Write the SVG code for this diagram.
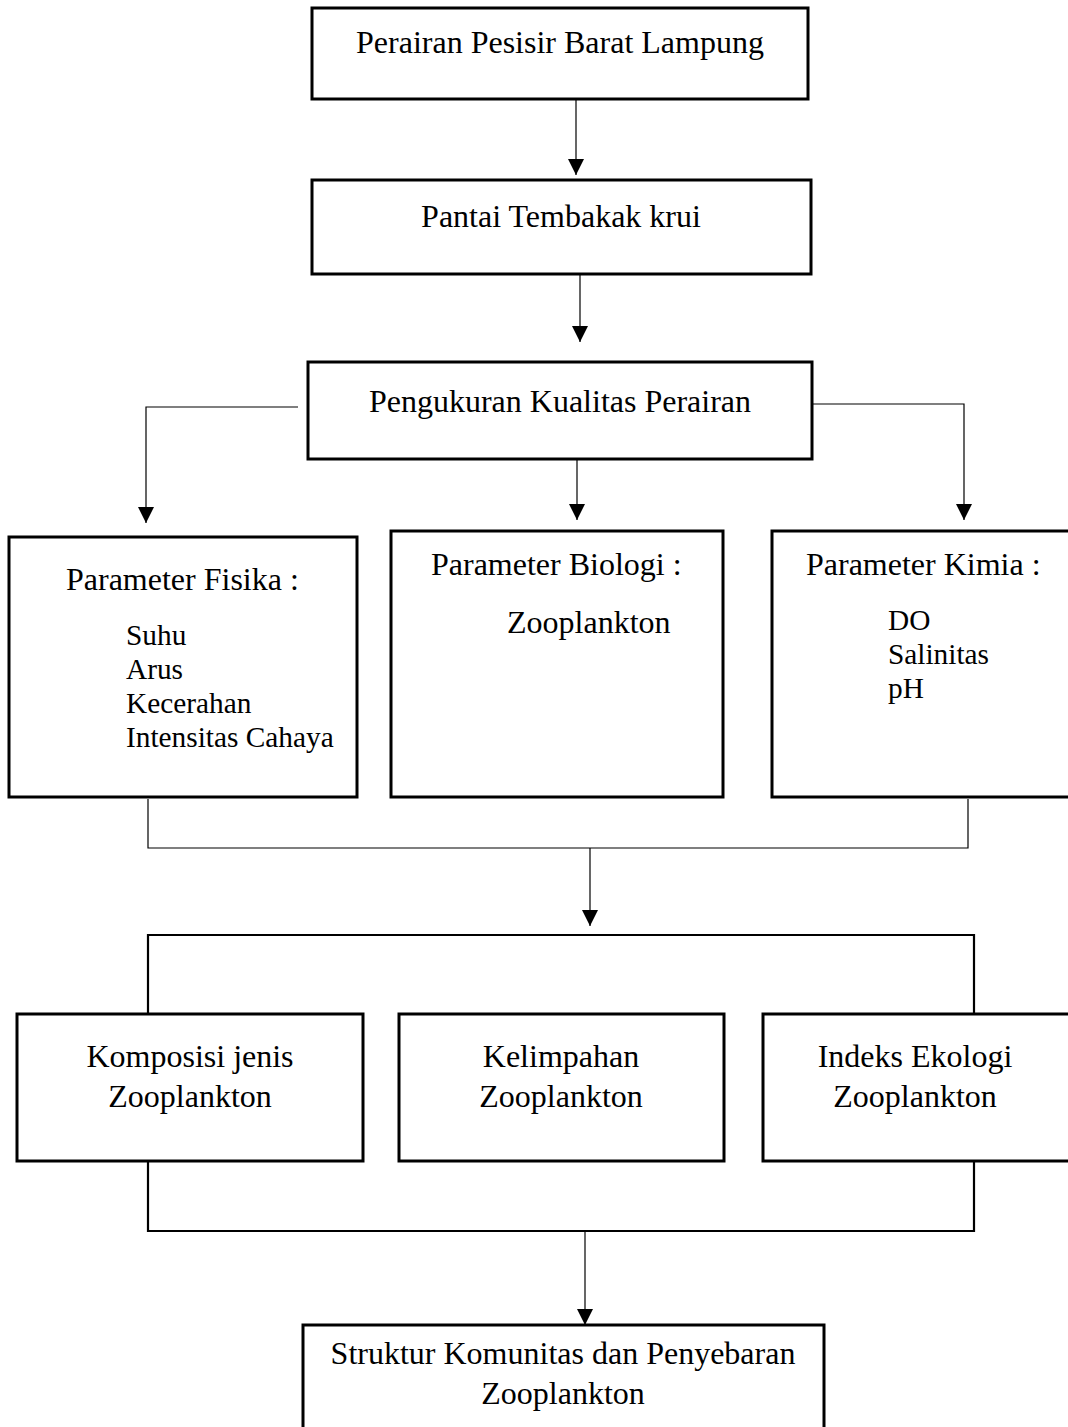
<svg xmlns="http://www.w3.org/2000/svg" width="1068" height="1427" viewBox="0 0 1068 1427">
<defs>
<style>
.box{fill:#fff;stroke:#000;stroke-width:3}
.t{font-family:"Liberation Serif","Times New Roman",serif;font-size:32px;fill:#000}
.s{font-size:29.33px}
.c{text-anchor:middle}
.ln{fill:none;stroke:#000;stroke-width:1.2}
.lt{fill:none;stroke:#000;stroke-width:2.2}
</style>
<marker id="arr" viewBox="0 0 16 16" refX="16" refY="8" markerWidth="16" markerHeight="16" markerUnits="userSpaceOnUse" orient="auto">
<path d="M0,0 L16,8 L0,16 z" fill="#000"/>
</marker>
</defs>
<rect width="1068" height="1427" fill="#fff"/>
<g id="connectors">
<line class="ln" x1="576" y1="100" x2="576" y2="175" marker-end="url(#arr)"/>
<line class="ln" x1="580" y1="275" x2="580" y2="342" marker-end="url(#arr)"/>
<polyline class="ln" points="298,407 146,407 146,523" marker-end="url(#arr)"/>
<polyline class="ln" points="812,404 964,404 964,520" marker-end="url(#arr)"/>
<line class="ln" x1="577" y1="460" x2="577" y2="520" marker-end="url(#arr)"/>
<polyline class="ln" points="148,799 148,848 968,848 968,799"/>
<line class="ln" x1="590" y1="848" x2="590" y2="926" marker-end="url(#arr)"/>
<polyline class="lt" points="148,1014 148,935 974,935 974,1014"/>
<polyline class="lt" points="148,1162 148,1231 974,1231 974,1162"/>
<line class="ln" x1="585" y1="1231" x2="585" y2="1325" marker-end="url(#arr)"/>
</g>
<g id="n1">
<rect class="box" x="312" y="8" width="496" height="91"/>
<text class="t c" x="560" y="53">Perairan Pesisir Barat Lampung</text>
</g>
<g id="n2">
<rect class="box" x="312" y="180" width="499" height="94"/>
<text class="t c" x="561" y="227">Pantai Tembakak krui</text>
</g>
<g id="n3">
<rect class="box" x="308" y="362" width="504" height="97"/>
<text class="t c" x="560" y="412">Pengukuran Kualitas Perairan</text>
</g>
<g id="fisika">
<rect class="box" x="9" y="537" width="348" height="260"/>
<text class="t" x="66" y="590">Parameter Fisika :</text>
<text class="t s" x="126" y="645">Suhu</text>
<text class="t s" x="126" y="679">Arus</text>
<text class="t s" x="126" y="713">Kecerahan</text>
<text class="t s" x="126" y="747">Intensitas Cahaya</text>
</g>
<g id="biologi">
<rect class="box" x="391" y="531" width="332" height="266"/>
<text class="t" x="431" y="575">Parameter Biologi :</text>
<text class="t" x="507" y="633">Zooplankton</text>
</g>
<g id="kimia">
<rect class="box" x="772" y="531" width="300" height="266"/>
<text class="t" x="806" y="575">Parameter Kimia :</text>
<text class="t s" x="888" y="630">DO</text>
<text class="t s" x="888" y="664">Salinitas</text>
<text class="t s" x="888" y="698">pH</text>
</g>
<g id="komposisi">
<rect class="box" x="17" y="1014" width="346" height="147"/>
<text class="t c" x="190" y="1067">Komposisi jenis</text>
<text class="t c" x="190" y="1107">Zooplankton</text>
</g>
<g id="kelimpahan">
<rect class="box" x="399" y="1014" width="325" height="147"/>
<text class="t c" x="561" y="1067">Kelimpahan</text>
<text class="t c" x="561" y="1107">Zooplankton</text>
</g>
<g id="indeks">
<rect class="box" x="763" y="1014" width="309" height="147"/>
<text class="t c" x="915" y="1067">Indeks Ekologi</text>
<text class="t c" x="915" y="1107">Zooplankton</text>
</g>
<g id="hasil">
<rect class="box" x="303" y="1325" width="521" height="110"/>
<text class="t c" x="563" y="1364">Struktur Komunitas dan Penyebaran</text>
<text class="t c" x="563" y="1404">Zooplankton</text>
</g>
</svg>
